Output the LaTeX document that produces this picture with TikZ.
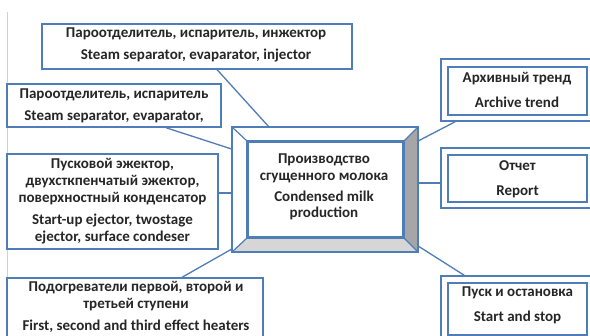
\documentclass[tikz,border=0pt]{standalone}
\usepackage{fontspec}
\setmainfont{Carlito}
\usetikzlibrary{calc}
\definecolor{bord}{HTML}{4F7DB8}
\definecolor{bevR}{HTML}{A6A6A6}
\definecolor{bevB}{HTML}{D6D6D6}
\definecolor{txtc}{HTML}{262626}
\begin{document}
\begin{tikzpicture}[x=1pt,y=-1pt,
  box/.style={draw=bord, line width=1.6pt, fill=white, rectangle, inner sep=0pt},
  conn/.style={draw=bord, line width=1.3pt},
  txt/.style={font=\bfseries\fontsize{15}{17}\selectfont, align=center, text=txtc, inner sep=0pt}]
\useasboundingbox (0,0) rectangle (590,336);
\clip (0,0) rectangle (590,336);
\fill[white] (0,0) rectangle (590,336);
\draw[gray!35, line width=0.8pt] (7,12) -- (7,340);

% boxes
\node[box, minimum width=310pt, minimum height=45pt] (T) at (197,46.5) {};
\node[box, minimum width=214pt, minimum height=43pt] (L1) at (114,105.5) {};
\node[box, minimum width=211pt, minimum height=95pt] (L2) at (112.5,201.5) {};
\node[box, minimum width=256pt, minimum height=70pt] (L3) at (135,313) {};
\node[box, minimum width=184pt, minimum height=123pt] (C) at (325,189.5) {};
\node[box, minimum width=155pt, minimum height=95pt] (Ci) at (325.5,189.5) {};
\node[box, line width=1.3pt, minimum width=151pt, minimum height=62pt] (R1) at (516.5,90) {};
\node[box, line width=1.3pt, minimum width=139pt, minimum height=48pt] (R1i) at (517.5,91) {};
\node[box, line width=1.3pt, minimum width=151pt, minimum height=60pt] (R2) at (516.5,178) {};
\node[box, line width=1.3pt, minimum width=139pt, minimum height=47pt] (R2i) at (517.5,178.5) {};
\node[box, line width=1.3pt, minimum width=151pt, minimum height=74pt] (R3) at (516.5,313) {};
\node[box, line width=1.3pt, minimum width=139pt, minimum height=52pt] (R3i) at (517.5,309) {};

% bevels of the central box
\fill[white] (C.north west) -- (C.north east) -- (Ci.north east) -- (Ci.north west) -- cycle;
\fill[white] (C.north west) -- (C.south west) -- (Ci.south west) -- (Ci.north west) -- cycle;
\fill[bevR] (C.north east) -- (C.south east) -- (Ci.south east) -- (Ci.north east) -- cycle;
\fill[bevB] (C.south west) -- (C.south east) -- (Ci.south east) -- (Ci.south west) -- cycle;
\draw[bord, line width=1.6pt] (C.north west) rectangle (C.south east);
\draw[bord, line width=1.6pt] (Ci.north west) rectangle (Ci.south east);
\draw[bord, line width=1.2pt] (C.north west) -- (Ci.north west)
  (C.north east) -- (Ci.north east) (C.south west) -- (Ci.south west)
  (C.south east) -- (Ci.south east);

% connectors
\draw[conn] ($(T.south west)+(176,0)$) -- ($(C.north west)+(37,0)$);
\draw[conn] ($(L1.south west)+(160,0)$) -- ($(C.north west)+(0,22)$);
\draw[conn] ($(L2.east)+(0,-8.5)$) -- ($(C.west)+(0,3.5)$);
\draw[conn] ($(L3.north west)+(176,0)$) -- ($(C.south west)+(0,-3)$);
\draw[conn] ($(C.north east)+(0,14)$) -- ($(R1.south west)+(15,0)$);
\draw[conn] ($(C.east)+(0,-6.5)$) -- ($(R2.west)+(0,5)$);
\draw[conn] ($(C.south east)+(0,-6)$) -- ($(R3.north west)+(24,0)$);

% texts
\node[txt] (tT) at (196,45) {Пароотделитель, испаритель, инжектор\\[5pt]Steam separator, evaparator, injector};
\node[txt] (tL1) at (114,106) {Пароотделитель, испаритель\\[5pt]Steam separator, evaparator,};
\node[txt] (tL2) at (112.5,201) {Пусковой эжектор,\\двухсткпенчатый эжектор,\\поверхностный конденсатор\\[5pt]Start-up ejector, twostage\\ejector, surface condeser};
\node[txt] (tL3) at (136,306.5) {Подогреватели первой, второй и\\третьей ступени\\[5pt]First, second and third effect heaters};
\node[txt, font=\bfseries\fontsize{15}{16.5}\selectfont] (tC) at (324,187) {Производство\\сгущенного молока\\[4.5pt]Condensed milk\\production};
\node[txt] (tR1) at (517,89.5) {Архивный тренд\\[8pt]Archive trend};
\node[txt] (tR2) at (517.5,179.5) {Отчет\\[8pt]Report};
\node[txt] (tR3) at (517.5,305) {Пуск и остановка\\[8pt]Start and stop};
\end{tikzpicture}
\end{document}
